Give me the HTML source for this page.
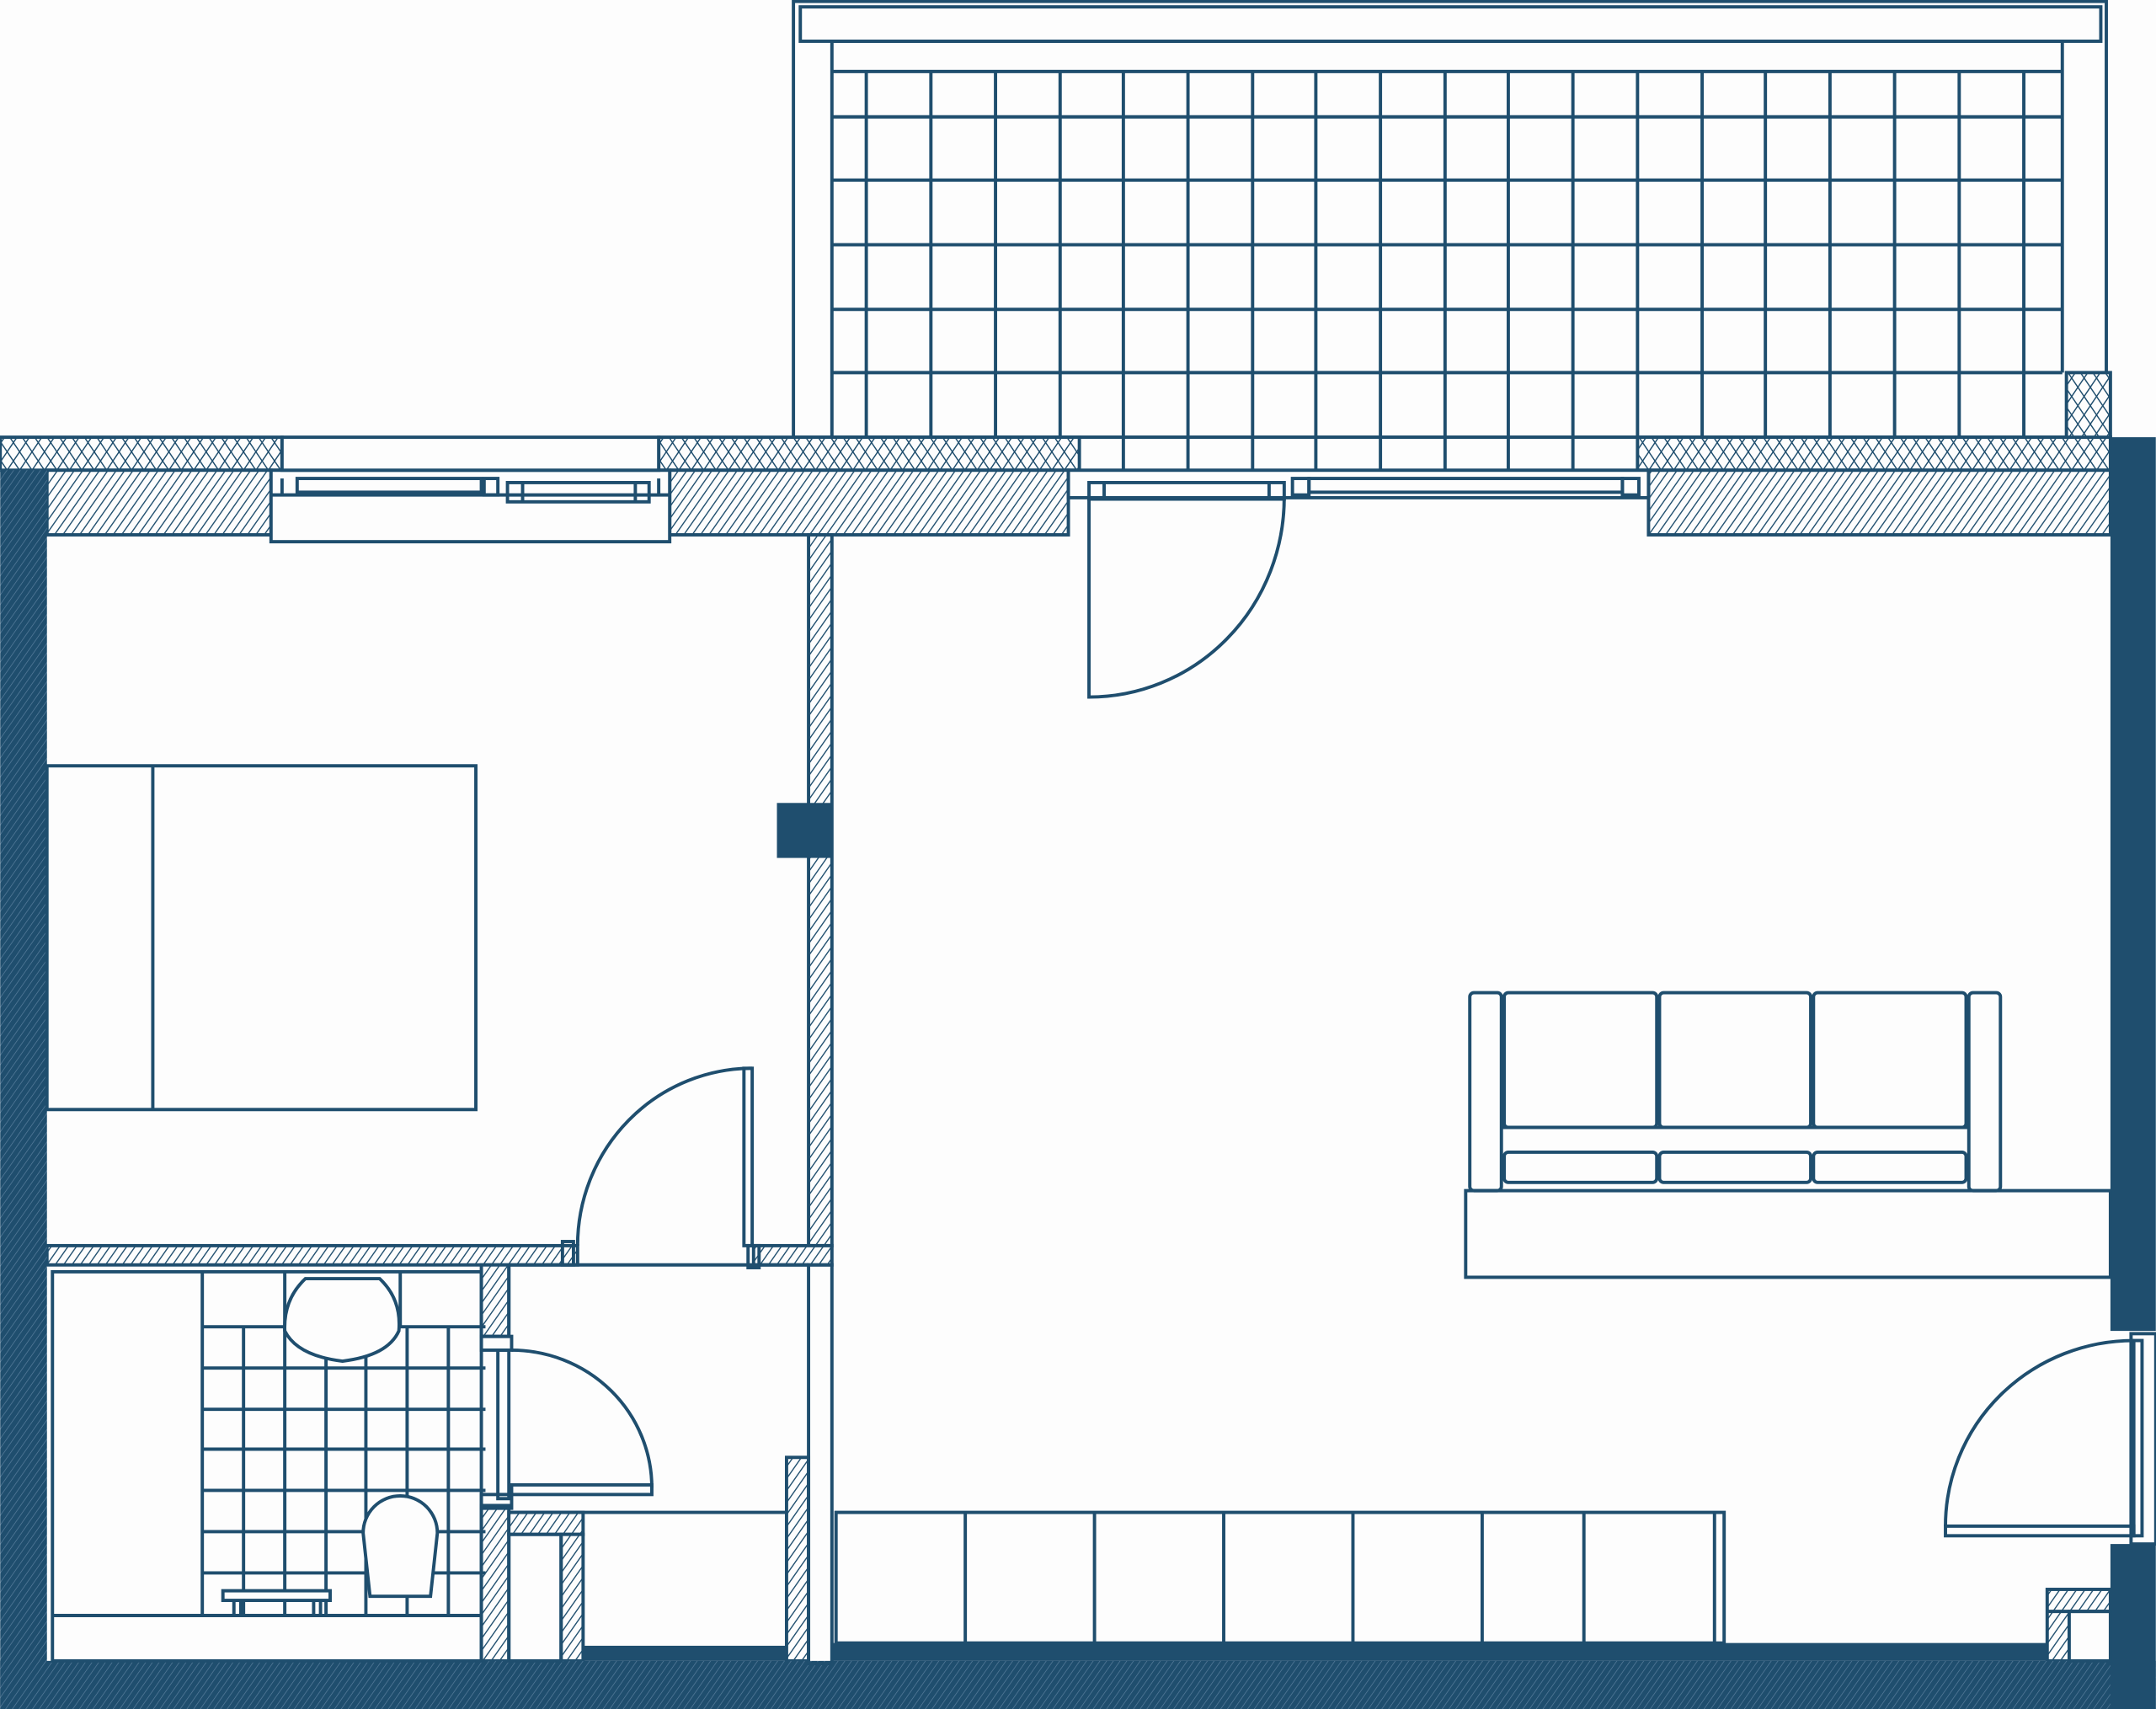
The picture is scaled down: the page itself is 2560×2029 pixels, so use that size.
<!DOCTYPE html>
<html><head><meta charset="utf-8"><style>
html,body{margin:0;padding:0;background:#fdfdfd;}
svg{display:block}
</style></head><body>
<svg width="2560" height="2029" viewBox="0 0 1568 1243" xmlns="http://www.w3.org/2000/svg">
<defs>
<pattern id="diag" width="5" height="5" patternUnits="userSpaceOnUse" patternTransform="rotate(35)">
<rect width="5" height="5" fill="#fdfdfd"/><line x1="0" y1="0" x2="0" y2="5" stroke="#1f4e6e" stroke-width="1.7"/></pattern>
<pattern id="dark" width="4" height="4" patternUnits="userSpaceOnUse" patternTransform="rotate(35)">
<rect width="4" height="4" fill="#1f4e6e"/><line x1="0" y1="0" x2="0" y2="4" stroke="#5d81a0" stroke-width="0.8"/></pattern>
<pattern id="cross" width="7.5" height="7.5" patternUnits="userSpaceOnUse" patternTransform="rotate(34)">
<rect width="7.5" height="7.5" fill="#fdfdfd"/><line x1="0" y1="0" x2="0" y2="7.5" stroke="#1f4e6e" stroke-width="1.8"/></pattern>
<pattern id="cross2" width="7.5" height="7.5" patternUnits="userSpaceOnUse" patternTransform="rotate(-34)">
<line x1="0" y1="0" x2="0" y2="7.5" stroke="#1f4e6e" stroke-width="1.8"/></pattern>
</defs>
<g stroke="#1f4e6e" stroke-width="2.4" fill="none">
<!-- balcony -->
<rect x="577" y="1" width="955" height="317"/>
<rect x="582" y="5" width="946" height="25"/>
<polyline points="605,318 605,30 1500,30 1500,271"/>
<line x1="605" y1="52" x2="1500" y2="52"/>
<g>
<line x1="605" y1="85" x2="1500" y2="85"/><line x1="605" y1="131" x2="1500" y2="131"/>
<line x1="605" y1="178" x2="1500" y2="178"/><line x1="605" y1="225" x2="1500" y2="225"/>
<line x1="605" y1="271" x2="1500" y2="271"/><line x1="605" y1="318" x2="1503" y2="318"/>
<line x1="785" y1="348" x2="1191" y2="348"/>
<line x1="630" y1="52" x2="630" y2="318"/><line x1="677" y1="52" x2="677" y2="318"/>
<line x1="724" y1="52" x2="724" y2="318"/><line x1="771" y1="52" x2="771" y2="318"/>
<line x1="817" y1="52" x2="817" y2="348"/><line x1="864" y1="52" x2="864" y2="348"/>
<line x1="911" y1="52" x2="911" y2="348"/><line x1="957" y1="52" x2="957" y2="348"/>
<line x1="1004" y1="52" x2="1004" y2="348"/><line x1="1051" y1="52" x2="1051" y2="348"/>
<line x1="1097" y1="52" x2="1097" y2="348"/><line x1="1144" y1="52" x2="1144" y2="348"/>
<line x1="1191" y1="52" x2="1191" y2="318"/><line x1="1238" y1="52" x2="1238" y2="318"/>
<line x1="1284" y1="52" x2="1284" y2="318"/><line x1="1331" y1="52" x2="1331" y2="318"/>
<line x1="1378" y1="52" x2="1378" y2="318"/><line x1="1425" y1="52" x2="1425" y2="318"/>
<line x1="1472" y1="52" x2="1472" y2="318"/>
</g>
<!-- crosshatch bands -->
<g fill="url(#cross)">
<rect x="0" y="318" width="205" height="24"/><rect x="479" y="318" width="306" height="24"/>
<rect x="1191" y="318" width="344" height="24"/><rect x="1503" y="271" width="32" height="47"/>
</g>
<g fill="url(#cross2)" stroke="none">
<rect x="0" y="318" width="205" height="24"/><rect x="479" y="318" width="306" height="24"/>
<rect x="1191" y="318" width="344" height="24"/><rect x="1503" y="271" width="32" height="47"/>
</g>
<!-- diag wall bands -->
<g fill="url(#diag)">
<rect x="34" y="342" width="163" height="47"/><rect x="487" y="342" width="290" height="47"/>
<rect x="1199" y="342" width="336" height="47"/>
<rect x="588" y="389" width="17" height="517"/>
<rect x="34" y="906" width="386" height="14"/><rect x="548" y="906" width="57" height="14"/>
<rect x="350" y="920" width="20" height="52"/>
<rect x="350" y="1095" width="20" height="113"/><rect x="370" y="1100" width="54" height="16"/>
<rect x="408" y="1116" width="16" height="92"/>
<rect x="572" y="1060" width="16" height="148"/>
<rect x="1489" y="1156" width="46" height="52"/>
</g>
<!-- outer walls -->
<g stroke="none">
<rect x="0" y="342" width="34" height="901" fill="url(#dark)"/>
<rect x="0" y="1208" width="1568" height="35" fill="url(#dark)"/>
<rect x="1535" y="318" width="33" height="650" fill="#1f4e6e"/>
<rect x="1535" y="1123" width="33" height="120" fill="#1f4e6e"/>
<rect x="424" y="1197" width="148" height="11" fill="#1f4e6e"/>
<rect x="605" y="1195" width="884" height="13" fill="#1f4e6e"/>
<rect x="565" y="584" width="40" height="40" fill="#1f4e6e"/>
</g>
<!-- left window -->
<rect x="197" y="342" width="290" height="52" fill="#fdfdfd"/>
<rect x="205" y="318" width="274" height="24" fill="#fdfdfd"/>
<line x1="197" y1="360" x2="487" y2="360"/>
<rect x="216" y="348" width="134" height="10"/><rect x="352" y="348" width="10" height="12"/>
<rect x="369" y="351" width="103" height="14"/><line x1="380" y1="351" x2="380" y2="365"/><line x1="462" y1="351" x2="462" y2="365"/>
<line x1="205" y1="348" x2="205" y2="360"/><line x1="479" y1="348" x2="479" y2="360"/>
<!-- right window -->
<rect x="777" y="342" width="422" height="20" fill="#fdfdfd"/>
<rect x="792" y="351" width="142" height="12"/><line x1="803" y1="351" x2="803" y2="363"/><line x1="923" y1="351" x2="923" y2="363"/>
<rect x="952" y="348" width="228" height="10"/><rect x="940" y="348" width="12" height="12"/><rect x="1180" y="348" width="12" height="12"/>
<path d="M792 362 L792 507 A142 145 0 0 0 934 362"/>
<!-- bedroom -->
<rect x="34" y="557" width="312" height="250"/><line x1="111" y1="557" x2="111" y2="807"/>
<rect x="541" y="777" width="6" height="129"/>
<path d="M420 906 A127 129 0 0 1 547 777"/>
<rect x="409" y="903" width="8" height="17"/><rect x="544" y="906" width="8" height="16"/>
<!-- corridor -->
<line x1="370" y1="920" x2="588" y2="920"/><line x1="370" y1="920" x2="370" y2="972"/>
<line x1="370" y1="1100" x2="572" y2="1100"/>
<rect x="588" y="920" width="17" height="290"/>
<!-- bathroom -->
<rect x="38" y="925" width="312" height="283"/>
<line x1="38" y1="1175" x2="350" y2="1175"/>
<g>
<line x1="147" y1="925" x2="147" y2="1175"/><line x1="177" y1="965" x2="177" y2="1175"/>
<line x1="207" y1="925" x2="207" y2="1175"/><line x1="237" y1="965" x2="237" y2="1175"/>
<line x1="266" y1="965" x2="266" y2="1175"/><line x1="296" y1="965" x2="296" y2="1175"/>
<line x1="291" y1="925" x2="291" y2="965"/><line x1="326" y1="965" x2="326" y2="1175"/>
<line x1="147" y1="965" x2="353" y2="965"/><line x1="147" y1="995" x2="353" y2="995"/>
<line x1="147" y1="1025" x2="353" y2="1025"/><line x1="147" y1="1054" x2="353" y2="1054"/>
<line x1="147" y1="1084" x2="353" y2="1084"/><line x1="147" y1="1114" x2="353" y2="1114"/>
<line x1="147" y1="1144" x2="353" y2="1144"/>
</g>
<path d="M222 930 L276 930 Q292 945 290 968 Q282 986 249 990 Q216 986 207 968 Q206 945 222 930 Z" fill="#fdfdfd"/>
<path d="M264 1115 A27 27 0 0 1 318 1115 L313 1161 L269 1161 Z" fill="#fdfdfd"/>
<rect x="162" y="1157" width="78" height="7" fill="#fdfdfd"/>
<line x1="170" y1="1164" x2="170" y2="1175"/><line x1="175" y1="1164" x2="175" y2="1175"/>
<line x1="228" y1="1164" x2="228" y2="1175"/><line x1="233" y1="1164" x2="233" y2="1175"/>
<!-- bath door -->
<rect x="350" y="972" width="22" height="10"/><rect x="350" y="1087" width="22" height="10"/>
<rect x="362" y="982" width="8" height="108"/>
<rect x="372" y="1080" width="102" height="7"/>
<path d="M372 982 A102 100 0 0 1 474 1082"/>
<rect x="370" y="1116" width="38" height="92"/>
<!-- wardrobe -->
<rect x="608" y="1100" width="646" height="95"/>
<line x1="702" y1="1100" x2="702" y2="1195"/><line x1="796" y1="1100" x2="796" y2="1195"/>
<line x1="890" y1="1100" x2="890" y2="1195"/><line x1="984" y1="1100" x2="984" y2="1195"/>
<line x1="1078" y1="1100" x2="1078" y2="1195"/><line x1="1152" y1="1100" x2="1152" y2="1195"/>
<line x1="1247" y1="1100" x2="1247" y2="1195"/>
<!-- sofa -->
<rect x="1066" y="866" width="469" height="63"/>
<rect x="1069" y="722" width="23" height="144" rx="3"/><rect x="1432" y="722" width="23" height="144" rx="3"/>
<rect x="1094" y="722" width="111" height="98" rx="3"/><rect x="1207" y="722" width="110" height="98" rx="3"/><rect x="1319" y="722" width="111" height="98" rx="3"/>
<rect x="1094" y="838" width="111" height="22" rx="3"/><rect x="1207" y="838" width="110" height="22" rx="3"/><rect x="1319" y="838" width="111" height="22" rx="3"/>
<line x1="1092" y1="820" x2="1432" y2="820"/>
<!-- right door -->
<rect x="1550" y="970" width="18" height="153" fill="#fdfdfd"/>
<rect x="1552" y="975" width="6" height="142"/>
<rect x="1415" y="1110" width="137" height="7"/>
<path d="M1415 1110 A137 135 0 0 1 1552 975"/>
<rect x="1505" y="1172" width="30" height="36" fill="#fdfdfd"/>
<line x1="1489" y1="1172" x2="1535" y2="1172"/>
</g>
</svg>
</body></html>
